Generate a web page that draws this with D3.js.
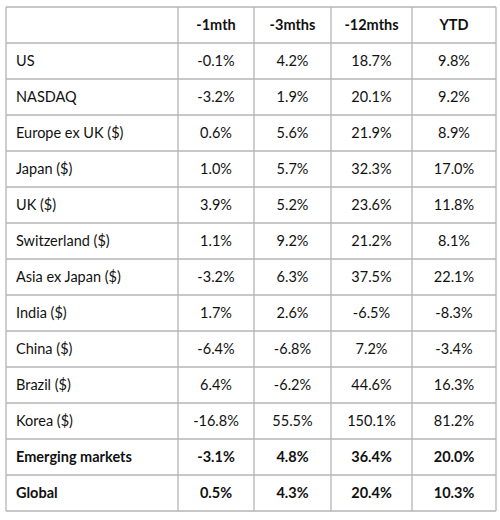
<!DOCTYPE html>
<html><head><meta charset="utf-8">
<script src="https://cdn.jsdelivr.net/npm/d3@7"></script>
<style>body{margin:0;background:#fff}</style></head>
<body><svg id="c" width="500" height="520"></svg>
<script>
const headers = ["", "-1mth", "-3mths", "-12mths", "YTD"];
const markets = ["US","NASDAQ","Europe ex UK ($)","Japan ($)","UK ($)","Switzerland ($)","Asia ex Japan ($)","India ($)","China ($)","Brazil ($)","Korea ($)","Emerging markets","Global"];
const m1 = ["-0.1%","-3.2%","0.6%","1.0%","3.9%","1.1%","-3.2%","1.7%","-6.4%","6.4%","-16.8%","-3.1%","0.5%"];
const m3 = ["4.2%","1.9%","5.6%","5.7%","5.2%","9.2%","6.3%","2.6%","-6.8%","-6.2%","55.5%","4.8%","4.3%"];
const m12 = ["18.7%","20.1%","21.9%","32.3%","23.6%","21.2%","37.5%","-6.5%","7.2%","44.6%","150.1%","36.4%","20.4%"];
const ytd = ["9.8%","9.2%","8.9%","17.0%","11.8%","8.1%","22.1%","-8.3%","-3.4%","16.3%","81.2%","20.0%","10.3%"];
const boldRows = ["Emerging markets","Global"];

const colEdges = [6,178,254,331,412,496];
const tableTop = 7, rowH = 36, nRows = markets.length + 1;
const svg = d3.select("#c");
const y = d3.scaleLinear().domain([0,nRows]).range([tableTop, tableTop+rowH*nRows]);
const rows = [headers].concat(markets.map((m,i)=>[m,m1[i],m3[i],m12[i],ytd[i]]));
const g = svg.append("g");
const lc = "#b5b5b5";
d3.range(nRows+1).forEach(i=>{
  g.append("line").attr("x1",colEdges[0]).attr("x2",colEdges[5]).attr("y1",y(i)).attr("y2",y(i)).attr("stroke",lc).attr("stroke-width",1.3);
});
colEdges.forEach(x=>{
  g.append("line").attr("x1",x).attr("x2",x).attr("y1",y(0)).attr("y2",y(nRows)).attr("stroke",lc).attr("stroke-width",1.3);
});
rows.forEach((r,ri)=>{
  const bold = ri===0 || boldRows.includes(r[0]);
  r.forEach((t,ci)=>{
    const x0 = colEdges[ci], x1 = colEdges[ci+1];
    g.append("text")
      .attr("x", ci===0 ? x0+10 : (x0+x1)/2)
      .attr("y", y(ri)+rowH/2)
      .attr("dy","0.35em")
      .attr("text-anchor", ci===0 ? "start" : "middle")
      .attr("font-family","Lato, 'Open Sans', sans-serif")
      .attr("font-size", 14.5)
      .attr("font-weight", bold ? 700 : 400)
      .attr("fill","#111")
      .text(t);
  });
});
</script></body></html>
